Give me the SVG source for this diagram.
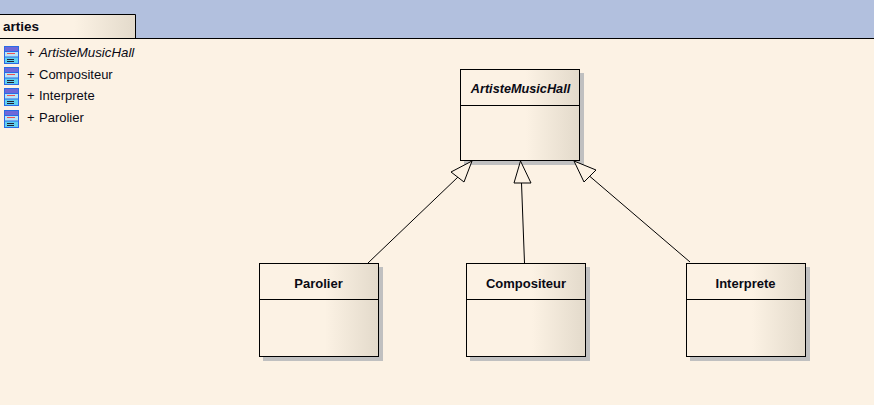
<svg xmlns="http://www.w3.org/2000/svg" width="874" height="405" viewBox="0 0 874 405">
<style>
text{font-family:"Liberation Sans",Arial,sans-serif;fill:#0a0a14}
.t{font-size:13px;font-weight:bold;text-anchor:middle}
.l{font-size:13px}
.s{fill:#c0c0c0}
.b{fill:url(#g);stroke:none}
.f{fill:none;stroke:#000;stroke-width:1}
.c{fill:none;stroke:#000;stroke-width:1}
.a{fill:#fcf2e4;stroke:#000;stroke-width:1}
.i1{fill:#2a6ae6}.i2{fill:#5fd0f0}.i3{fill:#6f68d8}.i4{fill:#f05050}.i5{fill:#223}
</style>
<defs>
<linearGradient id="g" x1="0" x2="1" y1="0" y2="0">
<stop offset="0" stop-color="#fcf2e4"/><stop offset="0.55" stop-color="#fcf2e4"/><stop offset="1" stop-color="#e3dacb"/>
</linearGradient>
<g id="ic">
<rect x="4" y="46" width="15" height="18" class="i1"/>
<rect x="5" y="47" width="13" height="4" class="i3"/>
<rect x="5" y="52" width="13" height="4.500" fill="#b8e4f6"/>
<rect x="5" y="57.500" width="13" height="5.500" class="i2"/>
<rect x="7" y="53" width="8" height="1" class="i4"/>
<rect x="7" y="59" width="7" height="1" class="i5"/>
<rect x="7" y="61" width="7" height="1" class="i5"/>
</g>
</defs>
<rect width="874" height="405" fill="#fcf2e4"/>
<rect width="874" height="38" fill="#b2c0de"/>
<path d="M0 38.500H874" class="f"/>
<g id="tab">
<rect x="0" y="15" width="135" height="23" class="b"/>
<path d="M0 14.500H135.500V38" class="f"/>
<text x="3" y="31" style="font-size:13.500px;font-weight:bold">arties</text>
</g>
<g id="tree">
<use href="#ic"/><use href="#ic" y="21"/><use href="#ic" y="42"/><use href="#ic" y="64"/>
<text x="27" y="57" class="l">+</text><text x="39" y="57" class="l" font-style="italic" style="font-size:13.300px">ArtisteMusicHall</text>
<text x="27" y="79" class="l">+</text><text x="39" y="79" class="l">Compositeur</text>
<text x="27" y="100" class="l">+</text><text x="39" y="100" class="l">Interprete</text>
<text x="27" y="122" class="l">+</text><text x="39" y="122" class="l">Parolier</text>
</g>
<g id="node-artiste">
<rect x="464" y="73" width="120" height="92" class="s"/>
<rect x="461" y="70" width="118" height="90" class="b"/>
<rect x="460.500" y="69.500" width="119" height="91" class="f"/>
<path d="M461 105.500H579" class="f"/>
<text x="520.500" y="93" class="t" font-style="italic" style="font-size:12.700px">ArtisteMusicHall</text>
</g>
<g id="node-parolier">
<rect x="263" y="267" width="120" height="94" class="s"/>
<rect x="260" y="264" width="118" height="92" class="b"/>
<rect x="259.500" y="263.500" width="119" height="93" class="f"/>
<path d="M260 299.500H378" class="f"/>
<text x="318.500" y="288" class="t">Parolier</text>
</g>
<g id="node-compositeur">
<rect x="470" y="267" width="120" height="94" class="s"/>
<rect x="467" y="264" width="118" height="92" class="b"/>
<rect x="466.500" y="263.500" width="119" height="93" class="f"/>
<path d="M467 299.500H585" class="f"/>
<text x="526" y="288" class="t">Compositeur</text>
</g>
<g id="node-interprete">
<rect x="690" y="267" width="120" height="94" class="s"/>
<rect x="687" y="264" width="118" height="92" class="b"/>
<rect x="686.500" y="263.500" width="119" height="93" class="f"/>
<path d="M687 299.500H805" class="f"/>
<text x="745.500" y="288" class="t">Interprete</text>
</g>
<g id="connectors">
<path d="M368 263L458 177M524.500 263L521.500 183M690 262L590 176.500" class="c"/>
<path d="M472 161L451 172L464 182Z M520.500 161L514 183H531Z M574 161L584 182L596 170Z" class="a"/>
</g>
</svg>
